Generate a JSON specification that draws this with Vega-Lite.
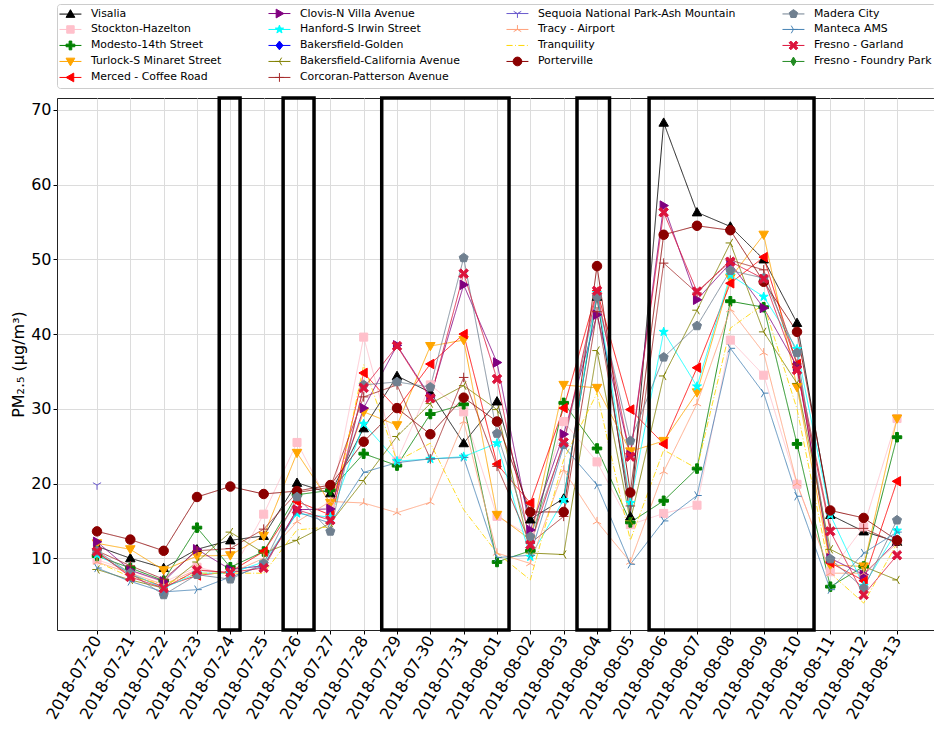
{
"$schema":"https://vega.github.io/schema/vega-lite/v6.json",
"width":877,"height":532,
"autosize":{"type":"none"},
"padding":{"left":57,"top":98,"right":0,"bottom":101},
"background":"white",
"config":{"view":{"stroke":"#222","strokeWidth":1},"font":"DejaVu Sans",
 "axis":{"labelFont":"DejaVu Sans","titleFont":"DejaVu Sans","labelColor":"#000","titleColor":"#000","tickColor":"#000","gridColor":"#dcdcdc","gridWidth":1,"domain":false,"tickSize":4},
 "legend":{"orient":"top","columns":4,"labelFont":"DejaVu Sans","labelFontSize":10.9,"labelColor":"#000","symbolSize":77,"symbolStrokeWidth":1,"labelOffset":15,"columnPadding":44,"rowPadding":3,"padding":4,"strokeColor":"#cccccc","cornerRadius":3,"fillColor":"white","offset":10,"symbolOffset":4,"labelLimit":400}},
"datasets":{
"boxes":[
{"start":"2018-07-23T16:00:00Z","end":"2018-07-24T07:00:00Z"},
{"start":"2018-07-25T14:00:00Z","end":"2018-07-26T12:15:00Z"},
{"start":"2018-07-28T13:00:00Z","end":"2018-08-01T08:40:00Z"},
{"start":"2018-08-03T09:36:00Z","end":"2018-08-04T09:00:00Z"},
{"start":"2018-08-05T13:30:00Z","end":"2018-08-10T12:15:00Z"}],
"pm":[
{"station":"Visalia","date":"2018-07-20","pm":11.6},{"station":"Visalia","date":"2018-07-21","pm":10.0},{"station":"Visalia","date":"2018-07-22","pm":8.7},{"station":"Visalia","date":"2018-07-23","pm":11.2},{"station":"Visalia","date":"2018-07-24","pm":12.4},{"station":"Visalia","date":"2018-07-25","pm":13.0},{"station":"Visalia","date":"2018-07-26","pm":20.1},{"station":"Visalia","date":"2018-07-27","pm":18.7},{"station":"Visalia","date":"2018-07-28","pm":27.4},{"station":"Visalia","date":"2018-07-29","pm":34.4},{"station":"Visalia","date":"2018-07-30","pm":32.2},{"station":"Visalia","date":"2018-07-31","pm":25.4},{"station":"Visalia","date":"2018-08-01","pm":31.0},{"station":"Visalia","date":"2018-08-02","pm":15.2},{"station":"Visalia","date":"2018-08-03","pm":18.0},{"station":"Visalia","date":"2018-08-04","pm":45.0},{"station":"Visalia","date":"2018-08-05","pm":15.6},{"station":"Visalia","date":"2018-08-06","pm":68.3},{"station":"Visalia","date":"2018-08-07","pm":56.3},{"station":"Visalia","date":"2018-08-08","pm":54.4},{"station":"Visalia","date":"2018-08-09","pm":50.0},{"station":"Visalia","date":"2018-08-10","pm":41.5},{"station":"Visalia","date":"2018-08-11","pm":15.8},{"station":"Visalia","date":"2018-08-12","pm":13.6},{"station":"Visalia","date":"2018-08-13","pm":12.2},
{"station":"Stockton-Hazelton","date":"2018-07-20","pm":9.8},{"station":"Stockton-Hazelton","date":"2018-07-21","pm":8.3},{"station":"Stockton-Hazelton","date":"2018-07-22","pm":6.8},{"station":"Stockton-Hazelton","date":"2018-07-23","pm":8.8},{"station":"Stockton-Hazelton","date":"2018-07-24","pm":7.8},{"station":"Stockton-Hazelton","date":"2018-07-25","pm":15.9},{"station":"Stockton-Hazelton","date":"2018-07-26","pm":25.5},{"station":"Stockton-Hazelton","date":"2018-07-27","pm":17.0},{"station":"Stockton-Hazelton","date":"2018-07-28","pm":39.6},{"station":"Stockton-Hazelton","date":"2018-07-29","pm":23.0},{"station":"Stockton-Hazelton","date":"2018-07-30","pm":33.2},{"station":"Stockton-Hazelton","date":"2018-07-31","pm":29.6},{"station":"Stockton-Hazelton","date":"2018-08-01","pm":15.6},{"station":"Stockton-Hazelton","date":"2018-08-02","pm":13.0},{"station":"Stockton-Hazelton","date":"2018-08-03","pm":28.3},{"station":"Stockton-Hazelton","date":"2018-08-04","pm":22.9},{"station":"Stockton-Hazelton","date":"2018-08-05","pm":14.5},{"station":"Stockton-Hazelton","date":"2018-08-06","pm":16.0},{"station":"Stockton-Hazelton","date":"2018-08-07","pm":17.1},{"station":"Stockton-Hazelton","date":"2018-08-08","pm":39.2},{"station":"Stockton-Hazelton","date":"2018-08-09","pm":34.5},{"station":"Stockton-Hazelton","date":"2018-08-10","pm":19.9},{"station":"Stockton-Hazelton","date":"2018-08-11","pm":8.2},{"station":"Stockton-Hazelton","date":"2018-08-12","pm":14.2},{"station":"Stockton-Hazelton","date":"2018-08-13","pm":28.7},
{"station":"Modesto-14th Street","date":"2018-07-20","pm":10.3},{"station":"Modesto-14th Street","date":"2018-07-21","pm":8.7},{"station":"Modesto-14th Street","date":"2018-07-22","pm":7.0},{"station":"Modesto-14th Street","date":"2018-07-23","pm":14.1},{"station":"Modesto-14th Street","date":"2018-07-24","pm":8.8},{"station":"Modesto-14th Street","date":"2018-07-25","pm":10.9},{"station":"Modesto-14th Street","date":"2018-07-26","pm":18.5},{"station":"Modesto-14th Street","date":"2018-07-27","pm":19.1},{"station":"Modesto-14th Street","date":"2018-07-28","pm":24.0},{"station":"Modesto-14th Street","date":"2018-07-29","pm":22.4},{"station":"Modesto-14th Street","date":"2018-07-30","pm":29.3},{"station":"Modesto-14th Street","date":"2018-07-31","pm":30.6},{"station":"Modesto-14th Street","date":"2018-08-01","pm":9.5},{"station":"Modesto-14th Street","date":"2018-08-02","pm":11.0},{"station":"Modesto-14th Street","date":"2018-08-03","pm":30.8},{"station":"Modesto-14th Street","date":"2018-08-04","pm":24.7},{"station":"Modesto-14th Street","date":"2018-08-05","pm":14.8},{"station":"Modesto-14th Street","date":"2018-08-06","pm":17.7},{"station":"Modesto-14th Street","date":"2018-08-07","pm":22.0},{"station":"Modesto-14th Street","date":"2018-08-08","pm":44.4},{"station":"Modesto-14th Street","date":"2018-08-09","pm":43.6},{"station":"Modesto-14th Street","date":"2018-08-10","pm":25.3},{"station":"Modesto-14th Street","date":"2018-08-11","pm":6.2},{"station":"Modesto-14th Street","date":"2018-08-12","pm":8.9},{"station":"Modesto-14th Street","date":"2018-08-13","pm":26.2},
{"station":"Turlock-S Minaret Street","date":"2018-07-20","pm":12.0},{"station":"Turlock-S Minaret Street","date":"2018-07-21","pm":11.2},{"station":"Turlock-S Minaret Street","date":"2018-07-22","pm":8.4},{"station":"Turlock-S Minaret Street","date":"2018-07-23","pm":10.3},{"station":"Turlock-S Minaret Street","date":"2018-07-24","pm":10.4},{"station":"Turlock-S Minaret Street","date":"2018-07-25","pm":13.0},{"station":"Turlock-S Minaret Street","date":"2018-07-26","pm":24.1},{"station":"Turlock-S Minaret Street","date":"2018-07-27","pm":17.4},{"station":"Turlock-S Minaret Street","date":"2018-07-28","pm":29.6},{"station":"Turlock-S Minaret Street","date":"2018-07-29","pm":27.8},{"station":"Turlock-S Minaret Street","date":"2018-07-30","pm":38.4},{"station":"Turlock-S Minaret Street","date":"2018-07-31","pm":39.2},{"station":"Turlock-S Minaret Street","date":"2018-08-01","pm":15.8},{"station":"Turlock-S Minaret Street","date":"2018-08-02","pm":12.5},{"station":"Turlock-S Minaret Street","date":"2018-08-03","pm":33.2},{"station":"Turlock-S Minaret Street","date":"2018-08-04","pm":32.8},{"station":"Turlock-S Minaret Street","date":"2018-08-05","pm":24.3},{"station":"Turlock-S Minaret Street","date":"2018-08-06","pm":25.7},{"station":"Turlock-S Minaret Street","date":"2018-08-07","pm":32.2},{"station":"Turlock-S Minaret Street","date":"2018-08-08","pm":47.5},{"station":"Turlock-S Minaret Street","date":"2018-08-09","pm":53.3},{"station":"Turlock-S Minaret Street","date":"2018-08-10","pm":32.9},{"station":"Turlock-S Minaret Street","date":"2018-08-11","pm":9.1},{"station":"Turlock-S Minaret Street","date":"2018-08-12","pm":8.9},{"station":"Turlock-S Minaret Street","date":"2018-08-13","pm":28.7},
{"station":"Merced - Coffee Road","date":"2018-07-20","pm":10.7},{"station":"Merced - Coffee Road","date":"2018-07-21","pm":7.8},{"station":"Merced - Coffee Road","date":"2018-07-22","pm":6.2},{"station":"Merced - Coffee Road","date":"2018-07-23","pm":7.7},{"station":"Merced - Coffee Road","date":"2018-07-24","pm":8.2},{"station":"Merced - Coffee Road","date":"2018-07-25","pm":10.9},{"station":"Merced - Coffee Road","date":"2018-07-26","pm":17.6},{"station":"Merced - Coffee Road","date":"2018-07-27","pm":15.8},{"station":"Merced - Coffee Road","date":"2018-07-28","pm":34.8},{"station":"Merced - Coffee Road","date":"2018-07-29","pm":30.0},{"station":"Merced - Coffee Road","date":"2018-07-30","pm":36.0},{"station":"Merced - Coffee Road","date":"2018-07-31","pm":40.0},{"station":"Merced - Coffee Road","date":"2018-08-01","pm":22.6},{"station":"Merced - Coffee Road","date":"2018-08-02","pm":17.4},{"station":"Merced - Coffee Road","date":"2018-08-03","pm":30.1},{"station":"Merced - Coffee Road","date":"2018-08-04","pm":45.8},{"station":"Merced - Coffee Road","date":"2018-08-05","pm":29.9},{"station":"Merced - Coffee Road","date":"2018-08-06","pm":25.3},{"station":"Merced - Coffee Road","date":"2018-08-07","pm":35.5},{"station":"Merced - Coffee Road","date":"2018-08-08","pm":46.8},{"station":"Merced - Coffee Road","date":"2018-08-09","pm":50.3},{"station":"Merced - Coffee Road","date":"2018-08-10","pm":36.0},{"station":"Merced - Coffee Road","date":"2018-08-11","pm":9.4},{"station":"Merced - Coffee Road","date":"2018-08-12","pm":7.0},{"station":"Merced - Coffee Road","date":"2018-08-13","pm":20.3},
{"station":"Clovis-N Villa Avenue","date":"2018-07-20","pm":12.2},{"station":"Clovis-N Villa Avenue","date":"2018-07-21","pm":8.4},{"station":"Clovis-N Villa Avenue","date":"2018-07-22","pm":6.9},{"station":"Clovis-N Villa Avenue","date":"2018-07-23","pm":11.2},{"station":"Clovis-N Villa Avenue","date":"2018-07-24","pm":8.5},{"station":"Clovis-N Villa Avenue","date":"2018-07-25","pm":9.0},{"station":"Clovis-N Villa Avenue","date":"2018-07-26","pm":16.5},{"station":"Clovis-N Villa Avenue","date":"2018-07-27","pm":16.6},{"station":"Clovis-N Villa Avenue","date":"2018-07-28","pm":30.1},{"station":"Clovis-N Villa Avenue","date":"2018-07-29","pm":38.5},{"station":"Clovis-N Villa Avenue","date":"2018-07-30","pm":31.6},{"station":"Clovis-N Villa Avenue","date":"2018-07-31","pm":46.6},{"station":"Clovis-N Villa Avenue","date":"2018-08-01","pm":36.2},{"station":"Clovis-N Villa Avenue","date":"2018-08-02","pm":13.8},{"station":"Clovis-N Villa Avenue","date":"2018-08-03","pm":26.6},{"station":"Clovis-N Villa Avenue","date":"2018-08-04","pm":42.6},{"station":"Clovis-N Villa Avenue","date":"2018-08-05","pm":23.8},{"station":"Clovis-N Villa Avenue","date":"2018-08-06","pm":57.2},{"station":"Clovis-N Villa Avenue","date":"2018-08-07","pm":44.6},{"station":"Clovis-N Villa Avenue","date":"2018-08-08","pm":49.5},{"station":"Clovis-N Villa Avenue","date":"2018-08-09","pm":43.5},{"station":"Clovis-N Villa Avenue","date":"2018-08-10","pm":35.7},{"station":"Clovis-N Villa Avenue","date":"2018-08-11","pm":10.0},{"station":"Clovis-N Villa Avenue","date":"2018-08-12","pm":7.8},{"station":"Clovis-N Villa Avenue","date":"2018-08-13","pm":12.3},
{"station":"Hanford-S Irwin Street","date":"2018-07-20","pm":10.5},{"station":"Hanford-S Irwin Street","date":"2018-07-21","pm":8.0},{"station":"Hanford-S Irwin Street","date":"2018-07-22","pm":6.0},{"station":"Hanford-S Irwin Street","date":"2018-07-23","pm":8.0},{"station":"Hanford-S Irwin Street","date":"2018-07-24","pm":8.0},{"station":"Hanford-S Irwin Street","date":"2018-07-25","pm":9.5},{"station":"Hanford-S Irwin Street","date":"2018-07-26","pm":16.0},{"station":"Hanford-S Irwin Street","date":"2018-07-27","pm":15.5},{"station":"Hanford-S Irwin Street","date":"2018-07-28","pm":28.0},{"station":"Hanford-S Irwin Street","date":"2018-07-29","pm":23.0},{"station":"Hanford-S Irwin Street","date":"2018-07-30","pm":23.3},{"station":"Hanford-S Irwin Street","date":"2018-07-31","pm":23.6},{"station":"Hanford-S Irwin Street","date":"2018-08-01","pm":25.4},{"station":"Hanford-S Irwin Street","date":"2018-08-02","pm":10.2},{"station":"Hanford-S Irwin Street","date":"2018-08-03","pm":17.8},{"station":"Hanford-S Irwin Street","date":"2018-08-04","pm":45.5},{"station":"Hanford-S Irwin Street","date":"2018-08-05","pm":17.4},{"station":"Hanford-S Irwin Street","date":"2018-08-06","pm":40.3},{"station":"Hanford-S Irwin Street","date":"2018-08-07","pm":33.0},{"station":"Hanford-S Irwin Street","date":"2018-08-08","pm":47.9},{"station":"Hanford-S Irwin Street","date":"2018-08-09","pm":45.0},{"station":"Hanford-S Irwin Street","date":"2018-08-10","pm":38.0},{"station":"Hanford-S Irwin Street","date":"2018-08-11","pm":15.8},{"station":"Hanford-S Irwin Street","date":"2018-08-12","pm":6.3},{"station":"Hanford-S Irwin Street","date":"2018-08-13","pm":13.7},
{"station":"Bakersfield-California Avenue","date":"2018-07-20","pm":8.5},{"station":"Bakersfield-California Avenue","date":"2018-07-21","pm":7.1},{"station":"Bakersfield-California Avenue","date":"2018-07-22","pm":6.0},{"station":"Bakersfield-California Avenue","date":"2018-07-23","pm":9.5},{"station":"Bakersfield-California Avenue","date":"2018-07-24","pm":13.5},{"station":"Bakersfield-California Avenue","date":"2018-07-25","pm":10.7},{"station":"Bakersfield-California Avenue","date":"2018-07-26","pm":12.4},{"station":"Bakersfield-California Avenue","date":"2018-07-27","pm":14.7},{"station":"Bakersfield-California Avenue","date":"2018-07-28","pm":20.4},{"station":"Bakersfield-California Avenue","date":"2018-07-29","pm":26.3},{"station":"Bakersfield-California Avenue","date":"2018-07-30","pm":30.7},{"station":"Bakersfield-California Avenue","date":"2018-07-31","pm":33.1},{"station":"Bakersfield-California Avenue","date":"2018-08-01","pm":29.9},{"station":"Bakersfield-California Avenue","date":"2018-08-02","pm":10.7},{"station":"Bakersfield-California Avenue","date":"2018-08-03","pm":10.5},{"station":"Bakersfield-California Avenue","date":"2018-08-04","pm":37.8},{"station":"Bakersfield-California Avenue","date":"2018-08-05","pm":15.0},{"station":"Bakersfield-California Avenue","date":"2018-08-06","pm":34.4},{"station":"Bakersfield-California Avenue","date":"2018-08-07","pm":43.2},{"station":"Bakersfield-California Avenue","date":"2018-08-08","pm":52.2},{"station":"Bakersfield-California Avenue","date":"2018-08-09","pm":40.3},{"station":"Bakersfield-California Avenue","date":"2018-08-10","pm":33.4},{"station":"Bakersfield-California Avenue","date":"2018-08-11","pm":11.2},{"station":"Bakersfield-California Avenue","date":"2018-08-12","pm":8.9},{"station":"Bakersfield-California Avenue","date":"2018-08-13","pm":7.1},
{"station":"Corcoran-Patterson Avenue","date":"2018-07-20","pm":11.0},{"station":"Corcoran-Patterson Avenue","date":"2018-07-21","pm":9.0},{"station":"Corcoran-Patterson Avenue","date":"2018-07-22","pm":7.2},{"station":"Corcoran-Patterson Avenue","date":"2018-07-23","pm":11.0},{"station":"Corcoran-Patterson Avenue","date":"2018-07-24","pm":11.3},{"station":"Corcoran-Patterson Avenue","date":"2018-07-25","pm":13.9},{"station":"Corcoran-Patterson Avenue","date":"2018-07-26","pm":18.8},{"station":"Corcoran-Patterson Avenue","date":"2018-07-27","pm":19.5},{"station":"Corcoran-Patterson Avenue","date":"2018-07-28","pm":31.6},{"station":"Corcoran-Patterson Avenue","date":"2018-07-29","pm":33.2},{"station":"Corcoran-Patterson Avenue","date":"2018-07-30","pm":23.3},{"station":"Corcoran-Patterson Avenue","date":"2018-07-31","pm":34.2},{"station":"Corcoran-Patterson Avenue","date":"2018-08-01","pm":22.3},{"station":"Corcoran-Patterson Avenue","date":"2018-08-02","pm":12.0},{"station":"Corcoran-Patterson Avenue","date":"2018-08-03","pm":15.6},{"station":"Corcoran-Patterson Avenue","date":"2018-08-04","pm":43.0},{"station":"Corcoran-Patterson Avenue","date":"2018-08-05","pm":17.0},{"station":"Corcoran-Patterson Avenue","date":"2018-08-06","pm":49.5},{"station":"Corcoran-Patterson Avenue","date":"2018-08-07","pm":45.5},{"station":"Corcoran-Patterson Avenue","date":"2018-08-08","pm":49.9},{"station":"Corcoran-Patterson Avenue","date":"2018-08-09","pm":48.6},{"station":"Corcoran-Patterson Avenue","date":"2018-08-10","pm":36.0},{"station":"Corcoran-Patterson Avenue","date":"2018-08-11","pm":14.0},{"station":"Corcoran-Patterson Avenue","date":"2018-08-12","pm":14.0},{"station":"Corcoran-Patterson Avenue","date":"2018-08-13","pm":12.0},
{"station":"Sequoia National Park-Ash Mountain","date":"2018-07-20","pm":19.8},
{"station":"Tracy - Airport","date":"2018-07-20","pm":9.5},{"station":"Tracy - Airport","date":"2018-07-21","pm":8.0},{"station":"Tracy - Airport","date":"2018-07-22","pm":6.5},{"station":"Tracy - Airport","date":"2018-07-23","pm":8.5},{"station":"Tracy - Airport","date":"2018-07-24","pm":8.0},{"station":"Tracy - Airport","date":"2018-07-25","pm":10.0},{"station":"Tracy - Airport","date":"2018-07-26","pm":14.9},{"station":"Tracy - Airport","date":"2018-07-27","pm":17.6},{"station":"Tracy - Airport","date":"2018-07-28","pm":17.4},{"station":"Tracy - Airport","date":"2018-07-29","pm":16.1},{"station":"Tracy - Airport","date":"2018-07-30","pm":17.5},{"station":"Tracy - Airport","date":"2018-07-31","pm":28.3},{"station":"Tracy - Airport","date":"2018-08-01","pm":10.7},{"station":"Tracy - Airport","date":"2018-08-02","pm":9.3},{"station":"Tracy - Airport","date":"2018-08-03","pm":21.8},{"station":"Tracy - Airport","date":"2018-08-04","pm":14.9},{"station":"Tracy - Airport","date":"2018-08-05","pm":9.5},{"station":"Tracy - Airport","date":"2018-08-06","pm":21.6},{"station":"Tracy - Airport","date":"2018-08-07","pm":30.7},{"station":"Tracy - Airport","date":"2018-08-08","pm":43.3},{"station":"Tracy - Airport","date":"2018-08-09","pm":37.5},{"station":"Tracy - Airport","date":"2018-08-10","pm":20.0},{"station":"Tracy - Airport","date":"2018-08-11","pm":8.0},{"station":"Tracy - Airport","date":"2018-08-12","pm":8.0},{"station":"Tracy - Airport","date":"2018-08-13","pm":12.0},
{"station":"Tranquility","date":"2018-07-20","pm":9.5},{"station":"Tranquility","date":"2018-07-21","pm":7.5},{"station":"Tranquility","date":"2018-07-22","pm":6.5},{"station":"Tranquility","date":"2018-07-23","pm":8.0},{"station":"Tranquility","date":"2018-07-24","pm":8.0},{"station":"Tranquility","date":"2018-07-25","pm":8.0},{"station":"Tranquility","date":"2018-07-26","pm":13.8},{"station":"Tranquility","date":"2018-07-27","pm":14.2},{"station":"Tranquility","date":"2018-07-28","pm":35.9},{"station":"Tranquility","date":"2018-07-29","pm":23.0},{"station":"Tranquility","date":"2018-07-30","pm":25.4},{"station":"Tranquility","date":"2018-07-31","pm":16.5},{"station":"Tranquility","date":"2018-08-01","pm":10.7},{"station":"Tranquility","date":"2018-08-02","pm":7.1},{"station":"Tranquility","date":"2018-08-03","pm":23.2},{"station":"Tranquility","date":"2018-08-04","pm":32.1},{"station":"Tranquility","date":"2018-08-05","pm":12.4},{"station":"Tranquility","date":"2018-08-06","pm":24.5},{"station":"Tranquility","date":"2018-08-07","pm":22.0},{"station":"Tranquility","date":"2018-08-08","pm":40.8},{"station":"Tranquility","date":"2018-08-09","pm":44.0},{"station":"Tranquility","date":"2018-08-10","pm":30.0},{"station":"Tranquility","date":"2018-08-11","pm":8.0},{"station":"Tranquility","date":"2018-08-12","pm":4.0},{"station":"Tranquility","date":"2018-08-13","pm":12.0},
{"station":"Porterville","date":"2018-07-20","pm":13.6},{"station":"Porterville","date":"2018-07-21","pm":12.5},{"station":"Porterville","date":"2018-07-22","pm":11.0},{"station":"Porterville","date":"2018-07-23","pm":18.2},{"station":"Porterville","date":"2018-07-24","pm":19.6},{"station":"Porterville","date":"2018-07-25","pm":18.6},{"station":"Porterville","date":"2018-07-26","pm":19.0},{"station":"Porterville","date":"2018-07-27","pm":19.8},{"station":"Porterville","date":"2018-07-28","pm":25.6},{"station":"Porterville","date":"2018-07-29","pm":30.1},{"station":"Porterville","date":"2018-07-30","pm":26.6},{"station":"Porterville","date":"2018-07-31","pm":31.5},{"station":"Porterville","date":"2018-08-01","pm":28.3},{"station":"Porterville","date":"2018-08-02","pm":16.2},{"station":"Porterville","date":"2018-08-03","pm":16.2},{"station":"Porterville","date":"2018-08-04","pm":49.1},{"station":"Porterville","date":"2018-08-05","pm":18.8},{"station":"Porterville","date":"2018-08-06","pm":53.3},{"station":"Porterville","date":"2018-08-07","pm":54.5},{"station":"Porterville","date":"2018-08-08","pm":53.9},{"station":"Porterville","date":"2018-08-09","pm":47.0},{"station":"Porterville","date":"2018-08-10","pm":40.3},{"station":"Porterville","date":"2018-08-11","pm":16.4},{"station":"Porterville","date":"2018-08-12","pm":15.4},{"station":"Porterville","date":"2018-08-13","pm":12.4},
{"station":"Madera City","date":"2018-07-20","pm":11.0},{"station":"Madera City","date":"2018-07-21","pm":8.0},{"station":"Madera City","date":"2018-07-22","pm":5.1},{"station":"Madera City","date":"2018-07-23","pm":7.8},{"station":"Madera City","date":"2018-07-24","pm":7.2},{"station":"Madera City","date":"2018-07-25","pm":9.3},{"station":"Madera City","date":"2018-07-26","pm":18.2},{"station":"Madera City","date":"2018-07-27","pm":13.6},{"station":"Madera City","date":"2018-07-28","pm":33.2},{"station":"Madera City","date":"2018-07-29","pm":33.6},{"station":"Madera City","date":"2018-07-30","pm":32.9},{"station":"Madera City","date":"2018-07-31","pm":50.2},{"station":"Madera City","date":"2018-08-01","pm":26.7},{"station":"Madera City","date":"2018-08-02","pm":12.9},{"station":"Madera City","date":"2018-08-03","pm":25.2},{"station":"Madera City","date":"2018-08-04","pm":45.0},{"station":"Madera City","date":"2018-08-05","pm":25.7},{"station":"Madera City","date":"2018-08-06","pm":36.9},{"station":"Madera City","date":"2018-08-07","pm":41.1},{"station":"Madera City","date":"2018-08-08","pm":48.5},{"station":"Madera City","date":"2018-08-09","pm":47.5},{"station":"Madera City","date":"2018-08-10","pm":37.5},{"station":"Madera City","date":"2018-08-11","pm":9.9},{"station":"Madera City","date":"2018-08-12","pm":6.0},{"station":"Madera City","date":"2018-08-13","pm":15.1},
{"station":"Manteca AMS","date":"2018-07-20","pm":8.7},{"station":"Manteca AMS","date":"2018-07-21","pm":6.9},{"station":"Manteca AMS","date":"2018-07-22","pm":5.5},{"station":"Manteca AMS","date":"2018-07-23","pm":5.8},{"station":"Manteca AMS","date":"2018-07-24","pm":7.5},{"station":"Manteca AMS","date":"2018-07-25","pm":9.0},{"station":"Manteca AMS","date":"2018-07-26","pm":16.2},{"station":"Manteca AMS","date":"2018-07-27","pm":14.7},{"station":"Manteca AMS","date":"2018-07-28","pm":21.5},{"station":"Manteca AMS","date":"2018-07-29","pm":22.8},{"station":"Manteca AMS","date":"2018-07-30","pm":23.3},{"station":"Manteca AMS","date":"2018-07-31","pm":23.5},{"station":"Manteca AMS","date":"2018-08-01","pm":10.1},{"station":"Manteca AMS","date":"2018-08-02","pm":10.4},{"station":"Manteca AMS","date":"2018-08-03","pm":25.0},{"station":"Manteca AMS","date":"2018-08-04","pm":19.8},{"station":"Manteca AMS","date":"2018-08-05","pm":9.2},{"station":"Manteca AMS","date":"2018-08-06","pm":15.0},{"station":"Manteca AMS","date":"2018-08-07","pm":18.4},{"station":"Manteca AMS","date":"2018-08-08","pm":38.1},{"station":"Manteca AMS","date":"2018-08-09","pm":32.1},{"station":"Manteca AMS","date":"2018-08-10","pm":18.3},{"station":"Manteca AMS","date":"2018-08-11","pm":5.8},{"station":"Manteca AMS","date":"2018-08-12","pm":10.7},{"station":"Manteca AMS","date":"2018-08-13","pm":13.5},
{"station":"Fresno - Garland","date":"2018-07-20","pm":10.9},{"station":"Fresno - Garland","date":"2018-07-21","pm":7.5},{"station":"Fresno - Garland","date":"2018-07-22","pm":6.0},{"station":"Fresno - Garland","date":"2018-07-23","pm":8.4},{"station":"Fresno - Garland","date":"2018-07-24","pm":8.1},{"station":"Fresno - Garland","date":"2018-07-25","pm":8.7},{"station":"Fresno - Garland","date":"2018-07-26","pm":16.5},{"station":"Fresno - Garland","date":"2018-07-27","pm":15.1},{"station":"Fresno - Garland","date":"2018-07-28","pm":32.8},{"station":"Fresno - Garland","date":"2018-07-29","pm":38.4},{"station":"Fresno - Garland","date":"2018-07-30","pm":31.4},{"station":"Fresno - Garland","date":"2018-07-31","pm":48.1},{"station":"Fresno - Garland","date":"2018-08-01","pm":34.0},{"station":"Fresno - Garland","date":"2018-08-02","pm":11.8},{"station":"Fresno - Garland","date":"2018-08-03","pm":25.5},{"station":"Fresno - Garland","date":"2018-08-04","pm":45.8},{"station":"Fresno - Garland","date":"2018-08-05","pm":23.6},{"station":"Fresno - Garland","date":"2018-08-06","pm":56.3},{"station":"Fresno - Garland","date":"2018-08-07","pm":45.7},{"station":"Fresno - Garland","date":"2018-08-08","pm":49.7},{"station":"Fresno - Garland","date":"2018-08-09","pm":47.4},{"station":"Fresno - Garland","date":"2018-08-10","pm":35.2},{"station":"Fresno - Garland","date":"2018-08-11","pm":13.6},{"station":"Fresno - Garland","date":"2018-08-12","pm":5.1},{"station":"Fresno - Garland","date":"2018-08-13","pm":10.4}
]},
"layer":[
{"data":{"name":"pm"},
 "mark":{"type":"line","strokeWidth":1,"opacity":0.85},
 "encoding":{
  "x":{"field":"date","type":"temporal",
   "scale":{"type":"utc","domain":[1531941120000,1534214280000]},
   "axis":{"title":null,"labelExpr":"utcFormat(datum.value, '%Y-%m-%d')","labelAngle":-60,"labelAlign":"right","labelBaseline":"middle","labelFontSize":16,"labelPadding":3,"grid":true,"labelOverlap":false,"labelFlush":false,
    "values":[1532044800000,1532131200000,1532217600000,1532304000000,1532390400000,1532476800000,1532563200000,1532649600000,1532736000000,1532822400000,1532908800000,1532995200000,1533081600000,1533168000000,1533254400000,1533340800000,1533427200000,1533513600000,1533600000000,1533686400000,1533772800000,1533859200000,1533945600000,1534032000000,1534118400000]}},
  "y":{"field":"pm","type":"quantitative","scale":{"domain":[0.4,71.6],"nice":false,"zero":false},
   "axis":{"title":"PM₂.₅ (μg/m³)","titleFontSize":16,"titleFontWeight":"normal","labelFontSize":16,"values":[10,20,30,40,50,60,70],"grid":true,"titlePadding":4}},
  "color":{"field":"station","type":"nominal","legend":null,
   "scale":{"domain":["Visalia","Clovis-N Villa Avenue","Sequoia National Park-Ash Mountain","Madera City","Stockton-Hazelton","Hanford-S Irwin Street","Tracy - Airport","Manteca AMS","Modesto-14th Street","Bakersfield-Golden","Tranquility","Fresno - Garland","Turlock-S Minaret Street","Bakersfield-California Avenue","Porterville","Fresno - Foundry Park","Merced - Coffee Road","Corcoran-Patterson Avenue"],
    "range":["#000000","#800080","#6a5acd","#708090","#ffc0cb","#00ffff","#ffa07a","#4682b4","#008000","#0000ff","#ffd700","#dc143c","#ffa500","#808000","#8b0000","#228b22","#ff0000","#a52a2a"]}},
  "strokeDash":{"condition":{"test":"datum.station === 'Tranquility'","value":[6,2,1,2]},"value":[1,0]}
 }},
{"data":{"name":"pm"},
 "transform":[{"filter":"datum.station !== 'Tranquility'"}],
 "mark":{"type":"point","opacity":1,"strokeWidth":1,"size":90},
 "encoding":{
  "x":{"field":"date","type":"temporal",
   "axis":{"title":null,"labelExpr":"utcFormat(datum.value, '%Y-%m-%d')","labelAngle":-60,"labelAlign":"right","labelBaseline":"middle","labelFontSize":16,"labelPadding":3,"grid":true,"labelOverlap":false,"labelFlush":false,
    "values":[1532044800000,1532131200000,1532217600000,1532304000000,1532390400000,1532476800000,1532563200000,1532649600000,1532736000000,1532822400000,1532908800000,1532995200000,1533081600000,1533168000000,1533254400000,1533340800000,1533427200000,1533513600000,1533600000000,1533686400000,1533772800000,1533859200000,1533945600000,1534032000000,1534118400000]}},
  "y":{"field":"pm","type":"quantitative"},
  "fill":{"field":"station","type":"nominal","legend":null,
   "scale":{"domain":["Visalia","Clovis-N Villa Avenue","Sequoia National Park-Ash Mountain","Madera City","Stockton-Hazelton","Hanford-S Irwin Street","Tracy - Airport","Manteca AMS","Modesto-14th Street","Bakersfield-Golden","Tranquility","Fresno - Garland","Turlock-S Minaret Street","Bakersfield-California Avenue","Porterville","Fresno - Foundry Park","Merced - Coffee Road","Corcoran-Patterson Avenue"],
    "range":["#000000","#800080","#6a5acd","#708090","#ffc0cb","#00ffff","#ffa07a","#4682b4","#008000","#0000ff","#ffd700","#dc143c","#ffa500","#808000","#8b0000","#228b22","#ff0000","#a52a2a"]}},
  "stroke":{"field":"station","type":"nominal","legend":null,
   "scale":{"domain":["Visalia","Clovis-N Villa Avenue","Sequoia National Park-Ash Mountain","Madera City","Stockton-Hazelton","Hanford-S Irwin Street","Tracy - Airport","Manteca AMS","Modesto-14th Street","Bakersfield-Golden","Tranquility","Fresno - Garland","Turlock-S Minaret Street","Bakersfield-California Avenue","Porterville","Fresno - Foundry Park","Merced - Coffee Road","Corcoran-Patterson Avenue"],
    "range":["#000000","#800080","#6a5acd","#708090","#ffc0cb","#00ffff","#ffa07a","#4682b4","#008000","#0000ff","#ffd700","#dc143c","#ffa500","#808000","#8b0000","#228b22","#ff0000","#a52a2a"]}},
  "shape":{"field":"station","type":"nominal","legend":null,
   "scale":{"domain":["Visalia","Clovis-N Villa Avenue","Sequoia National Park-Ash Mountain","Madera City","Stockton-Hazelton","Hanford-S Irwin Street","Tracy - Airport","Manteca AMS","Modesto-14th Street","Bakersfield-Golden","Tranquility","Fresno - Garland","Turlock-S Minaret Street","Bakersfield-California Avenue","Porterville","Fresno - Foundry Park","Merced - Coffee Road","Corcoran-Patterson Avenue"],
    "range":["M0,-1L1,0.75L-1,0.75Z","M1,0L-0.75,-1L-0.75,1Z","M0,0L0,1M0,0L-0.866,-0.5M0,0L0.866,-0.5","M0,-1L0.951,-0.309L0.588,0.809L-0.588,0.809L-0.951,-0.309Z","M-0.85,-0.85L0.85,-0.85L0.85,0.85L-0.85,0.85Z","M0,-1L0.235,-0.324L0.951,-0.309L0.38,0.124L0.588,0.809L0,0.4L-0.588,0.809L-0.38,0.124L-0.951,-0.309L-0.235,-0.324Z","M0,0L0,-1M0,0L-0.866,0.5M0,0L0.866,0.5","M0,0L1,0M0,0L-0.5,-0.866M0,0L-0.5,0.866","M-1,-0.3L-0.3,-0.3L-0.3,-1L0.3,-1L0.3,-0.3L1,-0.3L1,0.3L0.3,0.3L0.3,1L-0.3,1L-0.3,0.3L-1,0.3Z","M0,-1L0.8,0L0,1L-0.8,0Z","M-1,0L1,0","M-1,-0.6L-0.6,-1L0,-0.4L0.6,-1L1,-0.6L0.4,0L1,0.6L0.6,1L0,0.4L-0.6,1L-1,0.6L-0.4,0Z","M0,1L1,-0.75L-1,-0.75Z","M0,0L-1,0M0,0L0.5,-0.866M0,0L0.5,0.866","M1,0A1,1 0 1,1 -1,0A1,1 0 1,1 1,0Z","M0,-1L0.6,0L0,1L-0.6,0Z","M-1,0L0.75,-1L0.75,1Z","M-1,0L1,0M0,-1L0,1"]}}
 }},
{"data":{"name":"pm"},
 "transform":[{"filter":"false"}],
 "mark":{"type":"point","opacity":1,"strokeWidth":1},
 "encoding":{
  "fill":{"field":"station","type":"nominal","legend":{"title":null},
   "scale":{"domain":["Visalia","Clovis-N Villa Avenue","Sequoia National Park-Ash Mountain","Madera City","Stockton-Hazelton","Hanford-S Irwin Street","Tracy - Airport","Manteca AMS","Modesto-14th Street","Bakersfield-Golden","Tranquility","Fresno - Garland","Turlock-S Minaret Street","Bakersfield-California Avenue","Porterville","Fresno - Foundry Park","Merced - Coffee Road","Corcoran-Patterson Avenue"],
    "range":["#000000","#800080","#6a5acd","#708090","#ffc0cb","#00ffff","#ffa07a","#4682b4","#008000","#0000ff","#ffd700","#dc143c","#ffa500","#808000","#8b0000","#228b22","#ff0000","#a52a2a"]}},
  "stroke":{"field":"station","type":"nominal","legend":{"title":null},
   "scale":{"domain":["Visalia","Clovis-N Villa Avenue","Sequoia National Park-Ash Mountain","Madera City","Stockton-Hazelton","Hanford-S Irwin Street","Tracy - Airport","Manteca AMS","Modesto-14th Street","Bakersfield-Golden","Tranquility","Fresno - Garland","Turlock-S Minaret Street","Bakersfield-California Avenue","Porterville","Fresno - Foundry Park","Merced - Coffee Road","Corcoran-Patterson Avenue"],
    "range":["#000000","#800080","#6a5acd","#708090","#ffc0cb","#00ffff","#ffa07a","#4682b4","#008000","#0000ff","#ffd700","#dc143c","#ffa500","#808000","#8b0000","#228b22","#ff0000","#a52a2a"]}},
  "shape":{"field":"station","type":"nominal","legend":{"title":null},
   "scale":{"domain":["Visalia","Clovis-N Villa Avenue","Sequoia National Park-Ash Mountain","Madera City","Stockton-Hazelton","Hanford-S Irwin Street","Tracy - Airport","Manteca AMS","Modesto-14th Street","Bakersfield-Golden","Tranquility","Fresno - Garland","Turlock-S Minaret Street","Bakersfield-California Avenue","Porterville","Fresno - Foundry Park","Merced - Coffee Road","Corcoran-Patterson Avenue"],
    "range":["M-2.5,0L2.5,0M0,-1L1,0.75L-1,0.75Z","M-2.5,0L2.5,0M1,0L-0.75,-1L-0.75,1Z","M-2.5,0L2.5,0M0,0L0,1M0,0L-0.866,-0.5M0,0L0.866,-0.5","M-2.5,0L2.5,0M0,-1L0.951,-0.309L0.588,0.809L-0.588,0.809L-0.951,-0.309Z","M-2.5,0L2.5,0M-0.85,-0.85L0.85,-0.85L0.85,0.85L-0.85,0.85Z","M-2.5,0L2.5,0M0,-1L0.235,-0.324L0.951,-0.309L0.38,0.124L0.588,0.809L0,0.4L-0.588,0.809L-0.38,0.124L-0.951,-0.309L-0.235,-0.324Z","M-2.5,0L2.5,0M0,0L0,-1M0,0L-0.866,0.5M0,0L0.866,0.5","M-2.5,0L2.5,0M0,0L1,0M0,0L-0.5,-0.866M0,0L-0.5,0.866","M-2.5,0L2.5,0M-1,-0.3L-0.3,-0.3L-0.3,-1L0.3,-1L0.3,-0.3L1,-0.3L1,0.3L0.3,0.3L0.3,1L-0.3,1L-0.3,0.3L-1,0.3Z","M-2.5,0L2.5,0M0,-1L0.8,0L0,1L-0.8,0Z","M-2.5,0L-1.1,0M-0.55,0L-0.35,0M0.2,0L1.6,0M2.15,0L2.35,0","M-2.5,0L2.5,0M-1,-0.6L-0.6,-1L0,-0.4L0.6,-1L1,-0.6L0.4,0L1,0.6L0.6,1L0,0.4L-0.6,1L-1,0.6L-0.4,0Z","M-2.5,0L2.5,0M0,1L1,-0.75L-1,-0.75Z","M-2.5,0L2.5,0M0,0L-1,0M0,0L0.5,-0.866M0,0L0.5,0.866","M-2.5,0L2.5,0M1,0A1,1 0 1,1 -1,0A1,1 0 1,1 1,0Z","M-2.5,0L2.5,0M0,-1L0.6,0L0,1L-0.6,0Z","M-2.5,0L2.5,0M-1,0L0.75,-1L0.75,1Z","M-2.5,0L2.5,0M-1,0L1,0M0,-1L0,1"]}}
 }},
{"data":{"name":"boxes"},
 "mark":{"type":"rect","fill":"transparent","stroke":"#000","strokeWidth":3.5},
 "encoding":{"x":{"field":"start","type":"temporal",
   "axis":{"title":null,"labelExpr":"utcFormat(datum.value, '%Y-%m-%d')","labelAngle":-60,"labelAlign":"right","labelBaseline":"middle","labelFontSize":16,"labelPadding":3,"grid":true,"labelOverlap":false,"labelFlush":false,
    "values":[1532044800000,1532131200000,1532217600000,1532304000000,1532390400000,1532476800000,1532563200000,1532649600000,1532736000000,1532822400000,1532908800000,1532995200000,1533081600000,1533168000000,1533254400000,1533340800000,1533427200000,1533513600000,1533600000000,1533686400000,1533772800000,1533859200000,1533945600000,1534032000000,1534118400000]}},
  "x2":{"field":"end"}}}
],
"resolve":{"scale":{"fill":"independent","stroke":"independent","shape":"independent"}}
}
